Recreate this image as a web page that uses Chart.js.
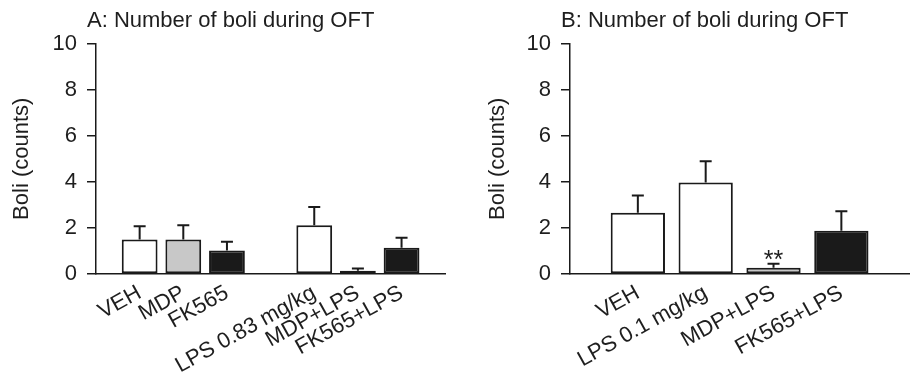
<!DOCTYPE html>
<html>
<head>
<meta charset="utf-8">
<script src="https://cdn.jsdelivr.net/npm/chart.js@4.4.0/dist/chart.umd.min.js"></script>
<style>
  html, body { margin: 0; padding: 0; background: #fff; overflow: hidden; }
  #wrap { position: relative; width: 913px; height: 373px; overflow: hidden; }
  .box { position: absolute; top: 0; height: 373px; }
  #boxA { left: 0; width: 464px; }
  #boxB { left: 464px; width: 464px; }
</style>
</head>
<body>
<div id="wrap">
  <div class="box" id="boxA"><canvas id="chartA" width="464" height="373"></canvas></div>
  <div class="box" id="boxB"><canvas id="chartB" width="464" height="373"></canvas></div>
</div>
<script>
// panel A (blank labels are the empty slots at the ends and between groups)
const titleA = 'A: Number of boli during OFT';
const labelsA = ['', 'VEH', 'MDP', 'FK565', '', 'LPS 0.83 mg/kg', 'MDP+LPS', 'FK565+LPS', ''];
const meansA = [null, 1.5, 1.5, 1.02, null, 2.12, 0.14, 1.14, null];
const semA = [null, 0.57, 0.62, 0.38, null, 0.79, 0.10, 0.43, null];

// panel B
const titleB = 'B: Number of boli during OFT';
const labelsB = ['', 'VEH', 'LPS 0.1 mg/kg', 'MDP+LPS', 'FK565+LPS', ''];
const meansB = [null, 2.66, 3.97, 0.27, 1.88, null];
const semB = [null, 0.75, 0.92, 0.18, 0.84, null];
const sigB = ['', '', '', '**', '', ''];

const yTicks = [0, 2, 4, 6, 8, 10];
const yTitle = 'Boli (counts)';

// styles
const WHITE = '#ffffff', GREY = '#c8c8c8', BLACK = '#1a1a1a';
const TEXT = '#1e1e1e';
const FAMILY = '"Liberation Sans", Arial, Helvetica, sans-serif';
const FS = 22;
const fillA = [WHITE, WHITE, GREY, BLACK, WHITE, WHITE, BLACK, BLACK, WHITE];
const fillB = [WHITE, WHITE, WHITE, GREY, BLACK, WHITE];

function errorBars(sem, sig) {
  return {
    id: 'errorBars',
    afterDatasetsDraw(chart) {
      const ctx = chart.ctx;
      const y = chart.scales.y;
      const meta = chart.getDatasetMeta(0);
      const vals = chart.data.datasets[0].data;
      ctx.save();
      ctx.strokeStyle = BLACK;
      ctx.lineWidth = 2;
      vals.forEach((v, i) => {
        if (v == null || sem[i] == null) return;
        const bar = meta.data[i];
        const top = y.getPixelForValue(v + sem[i]);
        ctx.beginPath();
        ctx.moveTo(bar.x, bar.y);
        ctx.lineTo(bar.x, top);
        ctx.moveTo(bar.x - 6, top);
        ctx.lineTo(bar.x + 6, top);
        ctx.stroke();
        if (sig && sig[i]) {
          ctx.fillStyle = TEXT;
          ctx.font = '25px ' + FAMILY;
          ctx.textAlign = 'center';
          ctx.textBaseline = 'alphabetic';
          ctx.fillText(sig[i], bar.x, top + 4);
        }
      });
      ctx.restore();
    }
  };
}

function panelTitle(text) {
  return {
    id: 'panelTitle',
    afterDraw(chart) {
      const ctx = chart.ctx;
      ctx.save();
      ctx.fillStyle = TEXT;
      ctx.font = FS + 'px ' + FAMILY;
      ctx.textAlign = 'left';
      ctx.textBaseline = 'alphabetic';
      ctx.fillText(text, chart.chartArea.left - 9, 27);
      ctx.restore();
    }
  };
}

function makeChart(id, labels, means, sem, sig, fills, title, yWidth, pad, barPct) {
  return new Chart(document.getElementById(id), {
    type: 'bar',
    data: {
      labels: labels,
      datasets: [{
        data: means,
        backgroundColor: fills,
        borderColor: BLACK,
        borderWidth: 2,
        borderSkipped: false,
        categoryPercentage: 1,
        barPercentage: barPct
      }]
    },
    options: {
      responsive: false,
      animation: false,
      layout: { padding: pad },
      plugins: {
        legend: { display: false },
        tooltip: { enabled: false },
        title: { display: false }
      },
      scales: {
        x: {
          type: 'category',
          offset: false,
          grid: { display: false, drawTicks: false },
          border: { display: true, color: BLACK, width: 1.5 },
          ticks: {
            color: TEXT,
            font: { family: FAMILY, size: FS },
            minRotation: 29,
            maxRotation: 29,
            autoSkip: false,
            padding: 6
          },
          afterFit: s => { s.height = 99; }
        },
        y: {
          min: 0,
          max: 10,
          afterBuildTicks: s => { s.ticks = yTicks.map(v => ({ value: v })); },
          grid: { display: true, drawOnChartArea: false, drawTicks: true, tickLength: 9, color: BLACK, lineWidth: 1.5 },
          border: { display: true, color: BLACK, width: 1.5 },
          ticks: { color: TEXT, font: { family: FAMILY, size: FS }, padding: 10 },
          title: {
            display: true,
            text: yTitle,
            color: TEXT,
            font: { family: FAMILY, size: FS },
            padding: { top: 9, bottom: 0 }
          },
          afterFit: s => { s.width = yWidth; }
        }
      }
    },
    plugins: [errorBars(sem, sig), panelTitle(title)]
  });
}

makeChart('chartA', labelsA, meansA, semA, null, fillA, titleA, 96,
  { left: 0, right: 12, top: 43.5, bottom: 0 }, 0.82);
makeChart('chartB', labelsB, meansB, semB, sigB, fillB, titleB, 94,
  { left: 12, right: 2, top: 43.5, bottom: 0 }, 0.8);
</script>
</body>
</html>
